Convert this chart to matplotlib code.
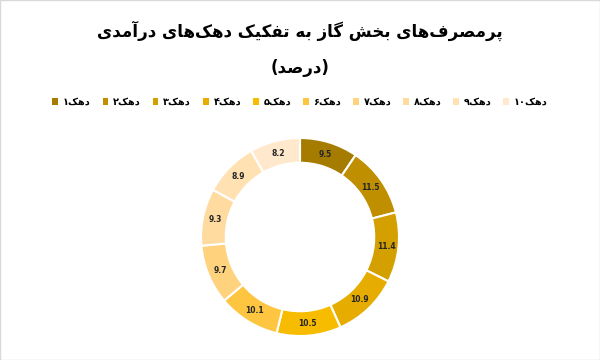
import matplotlib
matplotlib.use("Agg")
import numpy as np
import matplotlib.pyplot as plt
from matplotlib.patches import Rectangle, Patch

# data
title_line1 = "پرمصرف‌های بخش گاز به تفکیک دهک‌های درآمدی"
title_line2 = "(درصد)"
deciles = ["دهک۱", "دهک۲", "دهک۳", "دهک۴", "دهک۵",
           "دهک۶", "دهک۷", "دهک۸", "دهک۹", "دهک۱۰"]
values = [9.5, 11.5, 11.4, 10.9, 10.5, 10.1, 9.7, 9.3, 8.9, 8.2]
colors = ["#a67c00", "#bf8f00", "#d4a000", "#e6ad00", "#f7bc00",
          "#fec540", "#ffd27e", "#ffdba0", "#ffe1b2", "#ffe8cc"]

# minimal Arabic/Persian shaping (matplotlib has no complex text layout)
FORMS = {
    "ا": ("\uFE8D", "\uFE8E", None, None),
    "آ": ("\uFE81", "\uFE82", None, None),
    "ب": ("\uFE8F", "\uFE90", "\uFE91", "\uFE92"),
    "پ": ("\uFB56", "\uFB57", "\uFB58", "\uFB59"),
    "ت": ("\uFE95", "\uFE96", "\uFE97", "\uFE98"),
    "خ": ("\uFEA5", "\uFEA6", "\uFEA7", "\uFEA8"),
    "د": ("\uFEA9", "\uFEAA", None, None),
    "ر": ("\uFEAD", "\uFEAE", None, None),
    "ز": ("\uFEAF", "\uFEB0", None, None),
    "ش": ("\uFEB5", "\uFEB6", "\uFEB7", "\uFEB8"),
    "ص": ("\uFEB9", "\uFEBA", "\uFEBB", "\uFEBC"),
    "ف": ("\uFED1", "\uFED2", "\uFED3", "\uFED4"),
    "ک": ("\uFB8E", "\uFB8F", "\uFB90", "\uFB91"),
    "گ": ("\uFB92", "\uFB93", "\uFB94", "\uFB95"),
    "م": ("\uFEE1", "\uFEE2", "\uFEE3", "\uFEE4"),
    "ه": ("\uFEE9", "\uFEEA", "\uFEEB", "\uFEEC"),
    "ی": ("\uFBFC", "\uFBFD", "\uFBFE", "\uFBFF"),
}


def shape(s):
    out = []
    for i, c in enumerate(s):
        if c not in FORMS:
            out.append(c)
            continue
        iso, fin, ini, med = FORMS[c]
        prev = s[i - 1] if i > 0 else ""
        nxt = s[i + 1] if i < len(s) - 1 else ""
        jp = prev in FORMS and FORMS[prev][2] is not None
        jn = ini is not None and nxt in FORMS
        out.append(med if jp and jn else fin if jp else ini if jn else iso)
    out = [c for c in out if c != "\u200c"]
    vis = out[::-1]
    # keep digit runs left-to-right
    res, run = [], []
    for c in vis:
        if c.isdigit():
            run.append(c)
        else:
            res.extend(run[::-1]); run = []
            res.append(c)
    res.extend(run[::-1])
    swap = {"(": ")", ")": "("}
    return "".join(swap.get(c, c) for c in res)


plt.rcParams["font.family"] = ["DejaVu Sans"]

fig = plt.figure(figsize=(6, 3.6), dpi=100)
fig.patches.append(Rectangle((0, 0), 1, 1, transform=fig.transFigure,
                             fill=False, edgecolor="#d9d9d9", lw=1))

fig.text(0.5, 0.915, shape(title_line1), ha="center", va="center",
         fontsize=12, fontweight="bold")
fig.text(0.5, 0.81, shape(title_line2), ha="center", va="center",
         fontsize=12, fontweight="bold")

ax = fig.add_axes([201 / 600, 24 / 360, 198 / 600, 198 / 360])
wedges, _ = ax.pie(values, colors=colors, startangle=90, counterclock=False,
                   wedgeprops=dict(width=0.25, edgecolor="white", linewidth=1.5))
ax.set_xlim(-1, 1)
ax.set_ylim(-1, 1)

for w, v in zip(wedges, values):
    ang = np.deg2rad((w.theta1 + w.theta2) / 2)
    ax.text(0.875 * np.cos(ang), 0.875 * np.sin(ang), f"{v:.1f}",
            ha="center", va="center", fontsize=5.5, fontweight="bold",
            color="#262626")

handles = [Patch(facecolor=c, edgecolor="none") for c in colors]
fig.legend(handles, [shape(d) for d in deciles], ncol=10, loc="center",
           bbox_to_anchor=(0.5, 0.717), frameon=False,
           prop={"weight": "bold", "size": 7},
           handlelength=0.6, handleheight=0.6, handletextpad=0.5,
           columnspacing=1.2)

fig.savefig("out.png", dpi=100)
